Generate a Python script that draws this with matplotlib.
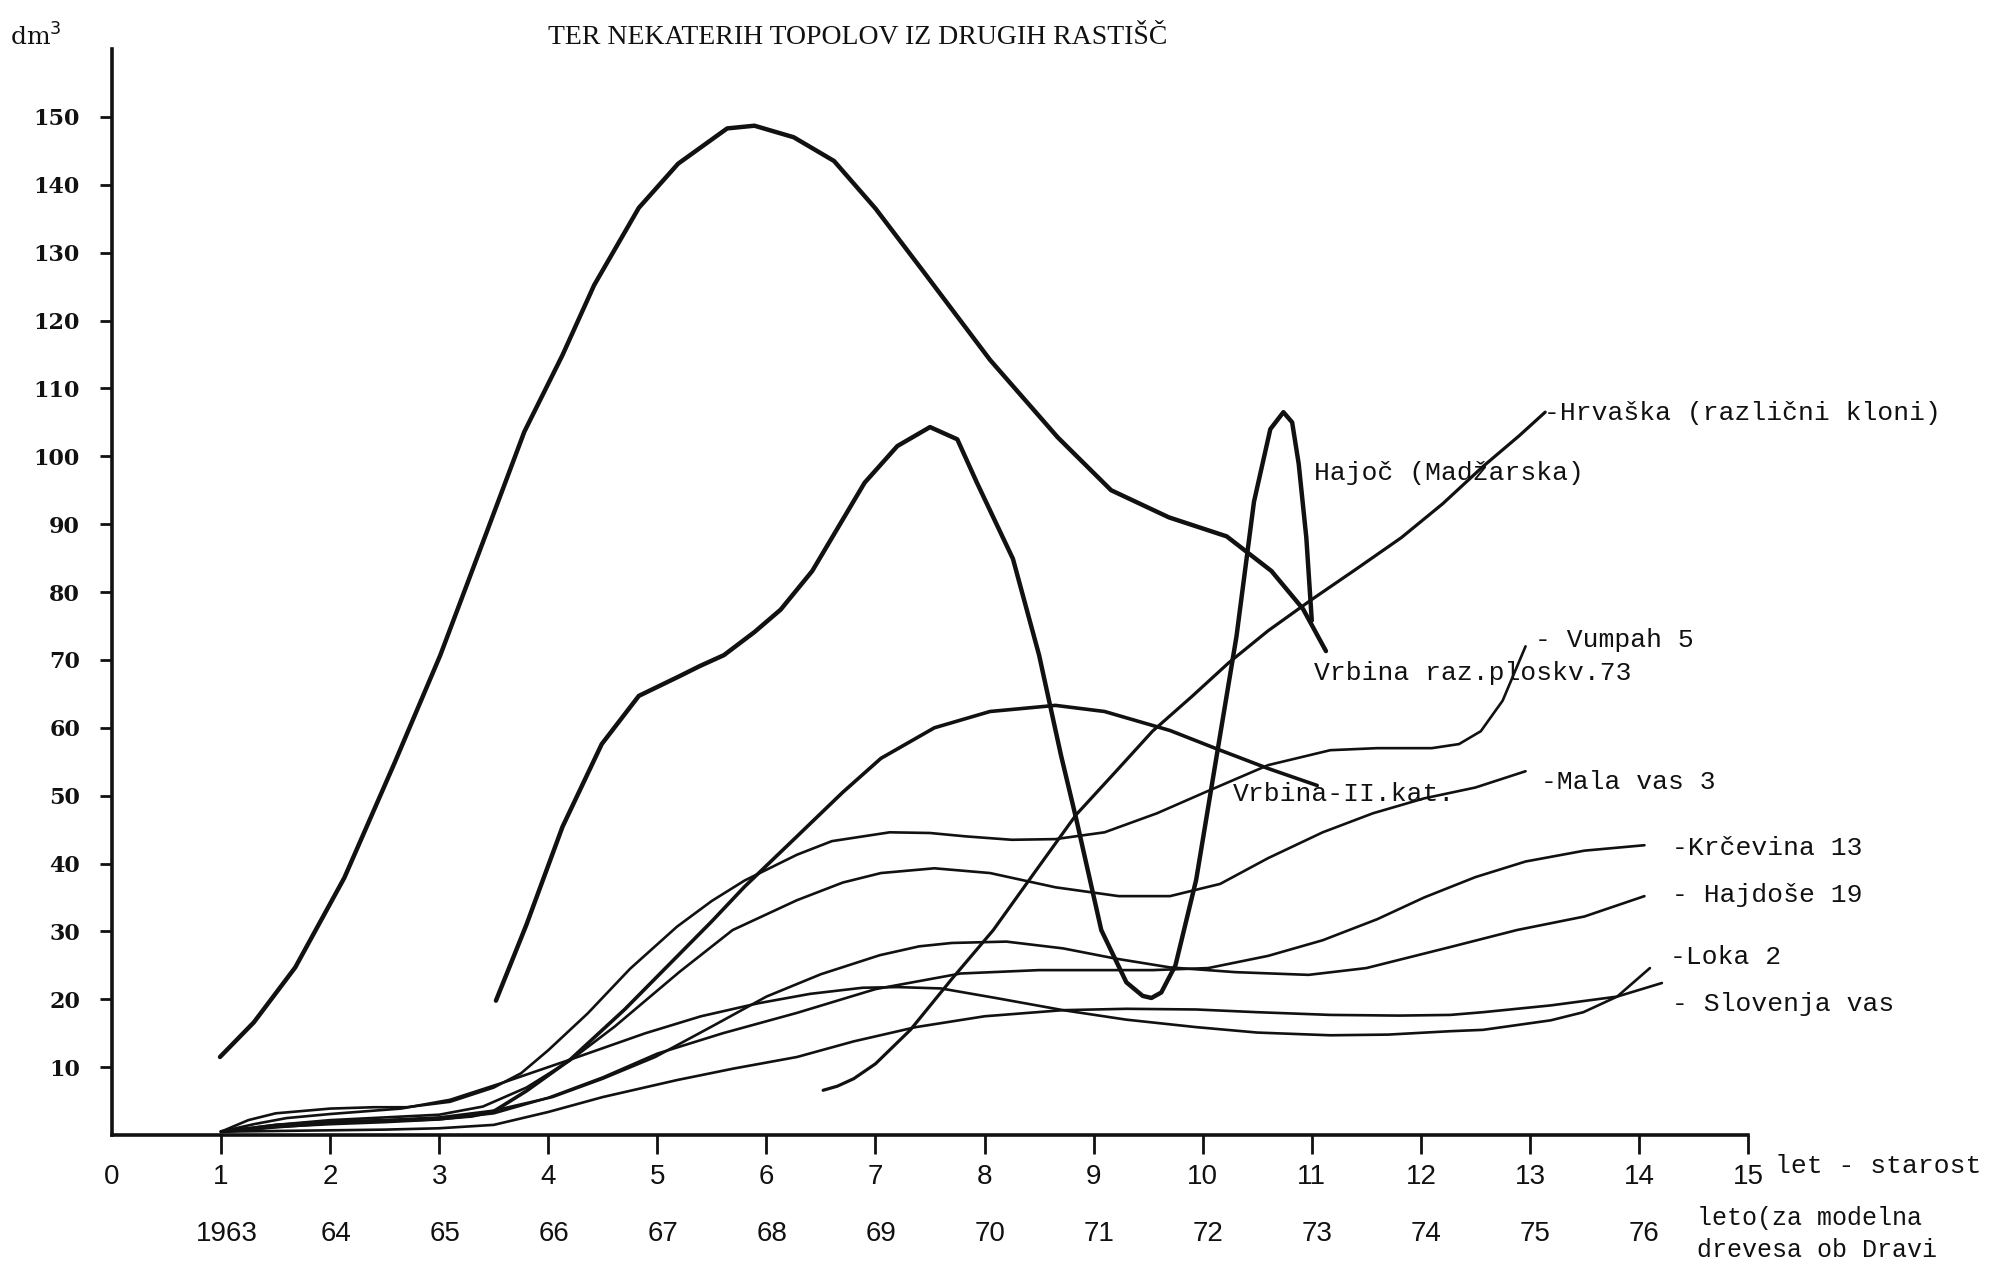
import matplotlib
matplotlib.use("Agg")
import matplotlib.pyplot as plt

# --- data (age in years, volume in dm3) ---
x_vrbina73 = [0.99, 1.3, 1.68, 2.13, 2.59, 3.01, 3.43, 3.78, 4.13, 4.42, 4.83, 5.19, 5.64,
              5.89, 6.25, 6.62, 7.0, 7.44, 8.05, 8.67, 9.16, 9.69, 10.22, 10.63, 10.92, 11.13]
y_vrbina73 = [11.5, 16.6, 24.7, 37.9, 54.8, 70.7, 88.6, 103.6, 114.9, 125.2, 136.6, 143.1, 148.3,
              148.7, 147, 143.5, 136.5, 127.2, 114.2, 102.8, 95, 91, 88.2, 83.1, 77.5, 71.3]

x_hajoc = [3.52, 3.8, 4.13, 4.49, 4.83, 5.19, 5.39, 5.61, 5.89, 6.13, 6.42, 6.9, 7.2, 7.5,
           7.75, 7.93, 8.26, 8.5, 8.7, 8.84, 9.07, 9.3, 9.45, 9.53, 9.62, 9.75, 9.94, 10.15,
           10.31, 10.47, 10.62, 10.74, 10.82, 10.88, 10.95, 11.0]
y_hajoc = [19.8, 31, 45.4, 57.6, 64.7, 67.5, 69.1, 70.7, 74.1, 77.4, 83.1, 96.1, 101.5, 104.3,
           102.5, 96.1, 84.9, 70.7, 56, 46.6, 30.2, 22.5, 20.5, 20.2, 21, 25, 37.6, 58,
           73.5, 93.3, 104, 106.5, 105, 98.9, 88, 75.8]

x_hrvaska = [6.52, 6.65, 6.8, 7.0, 7.32, 7.7, 8.08, 8.45, 8.84, 9.2, 9.54, 9.9, 10.24,
             10.6, 11.0, 11.4, 11.82, 12.2, 12.57, 12.9, 13.14]
y_hrvaska = [6.6, 7.2, 8.3, 10.5, 15.5, 23, 30.2, 38.5, 47.2, 53.5, 59.5, 64.6, 69.6,
             74.3, 78.9, 83.3, 88.0, 93.0, 98.5, 103, 106.5]

x_vrbina2 = [1.0, 1.5, 2.0, 2.5, 3.0, 3.3, 3.5, 3.8, 4.2, 4.7, 5.18, 5.5, 5.8, 6.28, 6.7,
             7.05, 7.54, 8.05, 8.65, 9.1, 9.7, 10.16, 10.6, 11.05]
y_vrbina2 = [0.5, 1.2, 1.8, 2.1, 2.4, 2.8, 3.5, 6.5, 11.1, 18.5, 26.3, 31.5, 36.6, 44, 50.5,
             55.5, 60, 62.4, 63.3, 62.4, 59.6, 56.7, 54, 51.5]

x_vumpah = [1.0, 1.25, 1.5, 2.0, 2.4, 2.7, 3.1, 3.5, 3.75, 4.0, 4.36, 4.75, 5.18, 5.5, 5.8,
            6.28, 6.6, 7.13, 7.5, 7.83, 8.25, 8.65, 9.1, 9.58, 10.05, 10.6, 11.17, 11.6,
            12.1, 12.35, 12.55, 12.75, 12.96]
y_vumpah = [0.5, 2.2, 3.2, 3.9, 4.1, 4.1, 4.9, 7.0, 9.1, 12.5, 17.9, 24.5, 30.7, 34.5, 37.5,
            41.3, 43.3, 44.6, 44.5, 44.0, 43.5, 43.6, 44.6, 47.4, 50.7, 54.5, 56.7, 57.0,
            57.0, 57.6, 59.5, 64.0, 72.0]

x_malavas = [1.0, 1.5, 2.0, 2.5, 3.0, 3.4, 3.8, 4.2, 4.61, 5.2, 5.69, 6.28, 6.7, 7.05, 7.54,
             8.05, 8.65, 9.23, 9.7, 10.16, 10.6, 11.1, 11.56, 12.03, 12.5, 12.96]
y_malavas = [0.5, 1.5, 2.2, 2.6, 3.0, 4.2, 7, 11, 16, 24, 30.2, 34.6, 37.2, 38.6, 39.3,
             38.6, 36.5, 35.2, 35.2, 37, 40.8, 44.6, 47.4, 49.6, 51.2, 53.6]

x_krcevina = [1.0, 1.5, 2.0, 2.5, 3.0, 3.5, 4.0, 4.5, 5.0, 5.6, 6.28, 7.0, 7.78, 8.5, 9.0,
              9.54, 10.05, 10.6, 11.1, 11.6, 12.03, 12.5, 12.96, 13.5, 14.05]
y_krcevina = [0.5, 1.2, 1.6, 1.9, 2.3, 3.2, 5.5, 8.5, 12, 15, 18, 21.5, 23.8, 24.3, 24.3,
              24.3, 24.6, 26.4, 28.7, 31.8, 35, 38, 40.3, 41.9, 42.7]

x_hajdose = [1.0, 1.5, 2.0, 2.5, 3.0, 3.5, 4.04, 4.5, 4.98, 5.5, 6.0, 6.5, 7.04, 7.4, 7.7,
             8.2, 8.72, 9.2, 9.7, 10.3, 10.97, 11.5, 12.27, 12.88, 13.5, 14.05]
y_hajdose = [0.5, 1.5, 2.0, 2.2, 2.6, 3.6, 5.6, 8.3, 11.5, 16, 20.4, 23.7, 26.5, 27.8, 28.3,
             28.5, 27.5, 26, 24.7, 24.0, 23.6, 24.6, 27.7, 30.2, 32.2, 35.2]

x_loka = [1.0, 1.3, 1.6, 2.0, 2.65, 3.1, 3.58, 4.18, 4.89, 5.4, 5.92, 6.4, 6.88, 7.2, 7.6,
          8.1, 8.72, 9.3, 9.94, 10.5, 11.17, 11.7, 12.27, 12.57, 13.19, 13.49, 13.8, 14.1]
y_loka = [0.5, 1.6, 2.5, 3.1, 3.9, 5.2, 7.7, 11, 15, 17.5, 19.4, 20.8, 21.7, 21.8, 21.6,
          20.2, 18.4, 17.0, 15.9, 15.1, 14.7, 14.8, 15.3, 15.5, 16.9, 18.1, 20.4, 24.6]

x_slovenja = [1.0, 1.5, 2.0, 2.5, 3.0, 3.5, 4.0, 4.5, 5.18, 5.7, 6.28, 6.8, 7.37, 8.0, 8.72,
              9.3, 9.94, 10.5, 11.17, 11.8, 12.27, 12.57, 13.19, 13.8, 14.21]
y_slovenja = [0.5, 0.6, 0.7, 0.8, 1.0, 1.5, 3.4, 5.6, 8.1, 9.8, 11.5, 13.8, 15.9, 17.5, 18.4,
              18.6, 18.5, 18.1, 17.7, 17.6, 17.7, 18.1, 19.1, 20.4, 22.4]

age_ticks = list(range(0, 16))
year_labels = ["1963", "64", "65", "66", "67", "68", "69", "70", "71", "72", "73", "74", "75", "76"]
y_ticks = list(range(10, 160, 10))

# label text and where it sits (x, y in data units)
labels = [
    ("-Hrvaška (različni kloni)", 13.13, 106.4),
    ("Hajoč (Madžarska)", 11.02, 97.6),
    ("Vrbina raz.ploskv.73", 11.02, 68.0),
    ("- Vumpah 5", 13.05, 73.0),
    ("Vrbina-II.kat.", 10.28, 50.2),
    ("-Mala vas 3", 13.1, 52.0),
    ("-Krčevina 13", 14.3, 42.3),
    ("- Hajdoše 19", 14.3, 35.4),
    ("-Loka 2", 14.28, 26.2),
    ("- Slovenja vas", 14.3, 19.3),
]

mono = "Liberation Mono"

fig = plt.figure(figsize=(19.93, 12.63), dpi=100)
ax = fig.add_axes([0.0562, 0.1013, 0.8209, 0.8599])

ink = "#111111"
kw = dict(color=ink, solid_joinstyle="round", solid_capstyle="round")
ax.plot(x_vrbina73, y_vrbina73, lw=3.2, **kw)
ax.plot(x_hajoc, y_hajoc, lw=3.2, **kw)
ax.plot(x_hrvaska, y_hrvaska, lw=2.3, **kw)
ax.plot(x_vrbina2, y_vrbina2, lw=2.6, **kw)
for xs, ys in [(x_vumpah, y_vumpah), (x_malavas, y_malavas), (x_krcevina, y_krcevina),
               (x_hajdose, y_hajdose), (x_loka, y_loka), (x_slovenja, y_slovenja)]:
    ax.plot(xs, ys, lw=1.9, **kw)

for txt, tx, ty in labels:
    ax.text(tx, ty, txt, family=mono, fontsize=19, va="center", ha="left", color=ink)

ax.set_xlim(0, 15)
ax.set_ylim(0, 160)
for s in ["top", "right"]:
    ax.spines[s].set_visible(False)
for s in ["left", "bottom"]:
    ax.spines[s].set_linewidth(2.6)
    ax.spines[s].set_color(ink)

ax.set_yticks(y_ticks)
ax.set_yticklabels([str(v) for v in y_ticks], family="DejaVu Serif", fontweight="bold", fontsize=16)
ax.tick_params(axis="y", direction="out", length=9, width=2, pad=14, colors=ink)

ax.set_xticks(age_ticks)
ax.set_xticklabels([str(v) for v in age_ticks], family="Liberation Sans", fontsize=20)
ax.tick_params(axis="x", direction="out", length=14, width=2, pad=7, colors=ink)
ax.xaxis.get_major_ticks()[0].tick1line.set_visible(False)

ax.text(15.25, -4.6, "let - starost", family=mono, fontsize=19, va="center", ha="left",
        color=ink, clip_on=False)
for i, lab in enumerate(year_labels):
    ax.text(i + 1.05, -14.6, lab, family="Liberation Sans", fontsize=20, ha="center",
            va="center", color=ink, clip_on=False)
ax.text(14.53, -12.2, "leto(za modelna", family=mono, fontsize=18, ha="left", va="center",
        color=ink, clip_on=False)
ax.text(14.53, -16.9, "drevesa ob Dravi", family=mono, fontsize=18, ha="left", va="center",
        color=ink, clip_on=False)

fig.text(0.005, 0.971, "dm$^3$", family="DejaVu Serif", fontsize=18, ha="left", va="center", color=ink)
fig.text(0.4305, 0.970, "TER NEKATERIH TOPOLOV IZ DRUGIH RASTIŠČ", family="Liberation Serif",
         fontsize=20, ha="center", va="center", color=ink)

fig.savefig("out.png", dpi=100, facecolor="white")
